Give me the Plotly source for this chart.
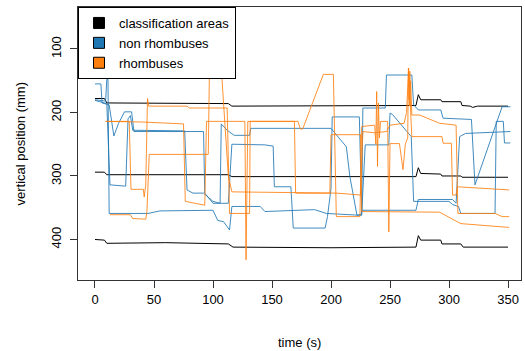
import plotly.graph_objects as go

# ---- classification areas (black) ----
area_top_t = [0, 8, 10, 44, 46, 113, 116, 196, 200, 272, 274, 276, 293, 294, 310, 311, 318, 320, 324, 350]
area_top_y = [178, 178, 185, 185, 186, 186, 190, 190, 189, 189, 172, 180, 180, 183, 183, 189, 190, 192, 190, 190]
area_mid_t = [0, 8, 10, 113, 116, 272, 274, 276, 293, 294, 310, 311, 350]
area_mid_y = [294, 294, 298, 298, 301, 301, 287, 296, 297, 300, 300, 302, 302]
area_bot_t = [0, 8, 10, 50, 60, 113, 117, 200, 250, 272, 274, 276, 293, 294, 310, 312, 350]
area_bot_y = [400, 401, 406, 406, 405, 407, 412, 413, 412, 412, 394, 401, 401, 407, 407, 412, 412]

# ---- non rhombuses (blue) ----
nr1_t = [0, 5, 6, 12, 16, 20, 25, 31, 33, 92, 93, 100, 113, 116, 144, 151, 152, 166, 168, 195, 197, 200, 201, 224, 226, 272, 274, 303, 306, 309, 314, 352]
nr1_y = [155, 155, 185, 188, 237, 217, 199, 199, 230, 230, 327, 343, 343, 250, 251, 253, 317, 317, 382, 382, 364, 320, 207, 207, 354, 354, 337, 337, 343, 238, 233, 230]
nr2_t = [0, 9, 10, 11, 12, 45, 55, 100, 104, 109, 114, 116, 140, 144, 186, 196, 226, 227, 246, 247, 268.5, 270, 274, 293, 295, 319, 322, 345, 352]
nr2_y = [180, 182, 148, 148, 359, 359, 355, 354, 370, 372, 385, 348, 348, 356, 353, 359, 362, 193, 193, 141, 141, 188, 196, 196, 209, 211, 314, 191, 191]
nr3_t = [0, 10, 12.7, 26, 28, 30, 32, 76, 78, 83, 92, 100, 106, 107, 112, 118, 131, 132, 200, 213, 216, 222, 226, 229, 249, 250, 252, 268, 270, 300, 303, 308, 310, 339, 340, 346, 347, 352]
nr3_y = [181, 186, 314, 316, 210, 205, 228, 229, 322, 327, 327, 340, 343, 218, 228, 236, 236, 225, 225, 254, 301, 362, 360, 251, 251, 201, 203, 238, 340, 340, 345, 348, 359, 359, 214, 214, 248, 248]

# ---- rhombuses (orange) ----
rh1_t = [9, 40, 75, 76.5, 93, 94.5, 127, 128, 129.5, 172, 174, 176, 193.5, 202, 204.5, 224.5, 226, 237, 238, 238.7, 239.4, 240.2, 241, 242, 248, 249, 250, 258, 261, 263, 265, 265.6, 266.2, 266.8, 267.5, 268.5, 294, 295, 302, 303, 306, 307, 351]
rh1_y = [214, 215, 218, 340, 346, 214, 214, 432, 214, 214, 226, 226, 140, 140, 364, 364, 222, 220, 250, 167, 285, 185, 240, 214, 214, 388, 249, 249, 290, 250, 240, 130, 180, 135, 200, 238, 238, 248.5, 248.5, 330, 330, 317, 322]
rh2_t = [9, 29, 30.5, 41, 41.7, 43, 44.5, 45.5, 78, 80, 112, 114, 131, 131.5, 144, 169, 170, 199, 200, 225, 226, 292, 310, 351]
rh2_y = [214, 214, 321, 321, 333, 314, 178, 190, 190, 193, 193, 359, 359, 214, 214, 214, 327, 327, 235, 235, 356, 357, 375, 381]
rh3_t = [12.7, 30, 32, 43, 44, 46, 96, 97, 107, 110, 113, 116, 198, 205, 225, 227, 237, 247, 250, 262, 264, 265.8, 266.5, 267.5, 268.5, 275, 292, 306, 307.5, 339, 345, 351]
rh3_y = [361, 361, 367, 368, 356, 266, 266, 130, 130, 216, 300, 325, 326, 327, 330, 230, 232, 230, 220, 217, 200, 130, 190, 150, 204, 204, 217, 220, 359, 359, 364, 364]

x_ticks = [0, 50, 100, 150, 200, 250, 300, 350]
y_ticks = [100, 200, 300, 400]
legend_names = ["classification areas", "non rhombuses", "rhombuses"]

BLACK = "black"
BLUE = "rgba(31,119,180,0.85)"
ORANGE = "rgba(255,127,14,0.85)"

fig = go.Figure()

for t, y in [(area_top_t, area_top_y), (area_mid_t, area_mid_y), (area_bot_t, area_bot_y)]:
    fig.add_trace(go.Scatter(x=t, y=y, mode="lines", line=dict(color=BLACK, width=1), showlegend=False, hoverinfo="skip"))
for t, y in [(nr1_t, nr1_y), (nr2_t, nr2_y), (nr3_t, nr3_y)]:
    fig.add_trace(go.Scatter(x=t, y=y, mode="lines", line=dict(color=BLUE, width=1), showlegend=False, hoverinfo="skip"))
for t, y in [(rh1_t, rh1_y), (rh2_t, rh2_y), (rh3_t, rh3_y)]:
    fig.add_trace(go.Scatter(x=t, y=y, mode="lines", line=dict(color=ORANGE, width=1), showlegend=False, hoverinfo="skip"))

for name, col in zip(legend_names, ["black", "#1f77b4", "#ff7f0e"]):
    fig.add_trace(go.Scatter(x=[None], y=[None], mode="markers", name=name,
                             marker=dict(symbol="square", size=11, color=col, line=dict(color="black", width=1))))

font = dict(family="Liberation Sans, Arial, sans-serif", size=13, color="black")

fig.update_layout(
    width=525, height=351,
    margin=dict(l=78, r=4, t=7, b=71),
    plot_bgcolor="white", paper_bgcolor="white",
    font=font,
    showlegend=True,
    hovermode=False,
    legend=dict(x=0, y=1, xanchor="left", yanchor="top", bgcolor="white",
                bordercolor="black", borderwidth=1, font=font,
                itemwidth=30, tracegroupgap=0),
    xaxis=dict(range=[-14.4, 361], tickvals=x_ticks, ticktext=[str(v) for v in x_ticks],
               showgrid=False, zeroline=False, showline=True, mirror=True,
               linecolor="#333", linewidth=1, ticks="outside", ticklen=7, tickcolor="#333",
               tickfont=font),
    yaxis=dict(range=[463.8, 33.9], tickvals=y_ticks, ticktext=[str(v) for v in y_ticks],
               showgrid=False, zeroline=False, showline=True, mirror=True,
               linecolor="#333", linewidth=1, ticks="outside", ticklen=7, tickcolor="#333",
               tickangle=-90, tickfont=font, ticklabelstandoff=4),
    annotations=[
        dict(text="time (s)", xref="paper", yref="paper", x=0.5, y=(280 - 342) / 273,
             xanchor="center", yanchor="middle", showarrow=False, font=font),
        dict(text="vertical position (mm)", xref="paper", yref="paper", x=(20 - 78) / 443, y=0.5,
             xanchor="center", yanchor="middle", textangle=-90, showarrow=False, font=font),
    ],
)

fig.write_html("out.html", config={"displayModeBar": False, "staticPlot": True},
               post_script="document.body.style.margin='0';document.body.style.padding='0';")
